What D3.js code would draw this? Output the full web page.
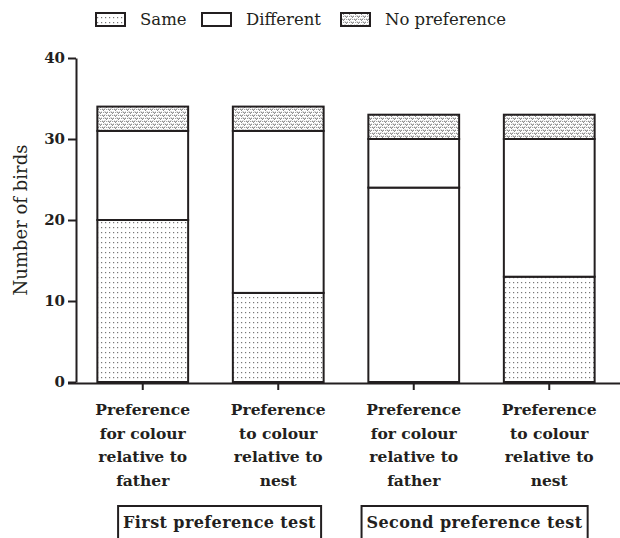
<!DOCTYPE html>
<html>
<head>
<meta charset="utf-8">
<script src="https://cdn.jsdelivr.net/npm/d3@7"></script>
<style>
  html, body { margin: 0; padding: 0; background: #fff; }
  svg { display: block; }
  text { font-family: "DejaVu Serif", "Liberation Serif", serif; fill: #231f20; }
</style>
</head>
<body>
<svg id="chart" width="620" height="538"></svg>
<script>
// ---- data ----
const categories = [
  ["Preference", "for colour", "relative to", "father"],
  ["Preference", "to colour", "relative to", "nest"],
  ["Preference", "for colour", "relative to", "father"],
  ["Preference", "to colour", "relative to", "nest"]
];
const seriesNames = ["Same", "Different", "No preference"];
const same = [20, 11, 24, 13];
const different = [11, 20, 6, 17];
const noPreference = [3, 3, 3, 3];
// in the reference the "Same" block of the third bar is drawn without its dot fill
const sameHatched = [true, true, false, true];
const yTicks = [0, 10, 20, 30, 40];
const groups = ["First preference test", "Second preference test"];
const groupMembers = [[0, 1], [2, 3]];

// ---- layout ----
const svg = d3.select("#chart");
const ink = "#231f20";
const x = d3.scaleBand().domain(d3.range(categories.length))
  .range([75, 617]).paddingInner(0.33).paddingOuter(0.165);
const y = d3.scaleLinear().domain([0, 40]).range([382, 58]);

// patterns
const defs = svg.append("defs");
const pDots = defs.append("pattern").attr("id", "dots")
  .attr("patternUnits", "userSpaceOnUse").attr("width", 4).attr("height", 5);
pDots.append("rect").attr("width", 4).attr("height", 5).attr("fill", "#fff");
pDots.append("rect").attr("x", 1).attr("y", 2).attr("width", 1.2).attr("height", 1.2).attr("fill", "#777");

const pNo = defs.append("pattern").attr("id", "nopref")
  .attr("patternUnits", "userSpaceOnUse").attr("width", 6).attr("height", 6);
pNo.append("rect").attr("width", 6).attr("height", 6).attr("fill", "#fff");
pNo.append("path").attr("d", "M0,0.5 L1.5,2.5 L3,0.5 M3,3.5 L4.5,5.5 L6,3.5")
  .attr("stroke", "#6a6a6a").attr("stroke-width", 1).attr("fill", "none");
pNo.append("rect").attr("x", 4.2).attr("y", 1).attr("width", 1).attr("height", 1).attr("fill", "#888");
pNo.append("rect").attr("x", 1.2).attr("y", 4).attr("width", 1).attr("height", 1).attr("fill", "#888");

const fills = ["url(#dots)", "#fff", "url(#nopref)"];

// stacked data
const rows = categories.map((c, i) => ({ i, Same: same[i], Different: different[i], "No preference": noPreference[i] }));
const stacked = d3.stack().keys(seriesNames)(rows);

const gBars = svg.append("g");
stacked.forEach((layer, si) => {
  gBars.selectAll(null).data(layer).enter().append("rect")
    .attr("x", d => x(d.data.i))
    .attr("width", x.bandwidth())
    .attr("y", d => y(d[1]))
    .attr("height", d => y(d[0]) - y(d[1]))
    .attr("fill", d => (si === 0 && !sameHatched[d.data.i]) ? "#fff" : fills[si])
    .attr("stroke", ink).attr("stroke-width", 2);
});

// y axis
const yAxis = svg.append("g").attr("transform", "translate(76,0)")
  .call(d3.axisLeft(y).tickValues(yTicks).tickSize(8).tickSizeOuter(0).tickPadding(3));
yAxis.select(".domain").attr("stroke", ink).attr("stroke-width", 2);
yAxis.selectAll(".tick line").attr("stroke", ink).attr("stroke-width", 2);
yAxis.selectAll(".tick text").attr("font-family", "DejaVu Serif").attr("font-weight", "bold")
  .attr("font-size", 15).attr("fill", ink);

// x axis
const xAxis = svg.append("g").attr("transform", "translate(0,383)")
  .call(d3.axisBottom(x).tickSize(7).tickSizeOuter(0).tickFormat(""));
xAxis.select(".domain").attr("d", "M68,0.5H620").attr("stroke", ink).attr("stroke-width", 2);
xAxis.selectAll(".tick line").attr("stroke", ink).attr("stroke-width", 2);

// category labels
const lab = svg.append("g");
categories.forEach((lines, i) => {
  const t = lab.append("text").attr("text-anchor", "middle")
    .attr("font-weight", "bold").attr("font-size", 15.5);
  lines.forEach((ln, k) => {
    t.append("tspan").attr("x", x(i) + x.bandwidth() / 2).attr("y", 415 + k * 23.5).text(ln);
  });
});

// group boxes
const groupOffsets = [9, -7];
groups.forEach((g, gi) => {
  const idx = groupMembers[gi];
  const cx = (x(idx[0]) + x(idx[idx.length - 1]) + x.bandwidth()) / 2 + groupOffsets[gi];
  const gg = svg.append("g");
  const box = gg.append("rect");
  const t = gg.append("text").attr("x", cx).attr("y", 528)
    .attr("text-anchor", "middle").attr("font-weight", "bold").attr("font-size", 16)
    .attr("letter-spacing", 0.4).text(g);
  const bb = t.node().getBBox();
  box.attr("x", bb.x - 5).attr("y", 506)
    .attr("width", bb.width + 10).attr("height", 36)
    .attr("fill", "none").attr("stroke", ink).attr("stroke-width", 2);
});

// y title
svg.append("text").attr("transform", "translate(27,220) rotate(-90)")
  .attr("text-anchor", "middle").attr("font-size", 18).text("Number of birds");

// legend
const legendX = [96, 202, 341];
const leg = svg.append("g");
seriesNames.forEach((s, i) => {
  leg.append("rect").attr("x", legendX[i]).attr("y", 13).attr("width", 29).attr("height", 13)
    .attr("fill", fills[i]).attr("stroke", ink).attr("stroke-width", 2);
  leg.append("text").attr("x", legendX[i] + 44).attr("y", 25).attr("font-size", 16.5).text(s);
});
</script>
</body>
</html>
